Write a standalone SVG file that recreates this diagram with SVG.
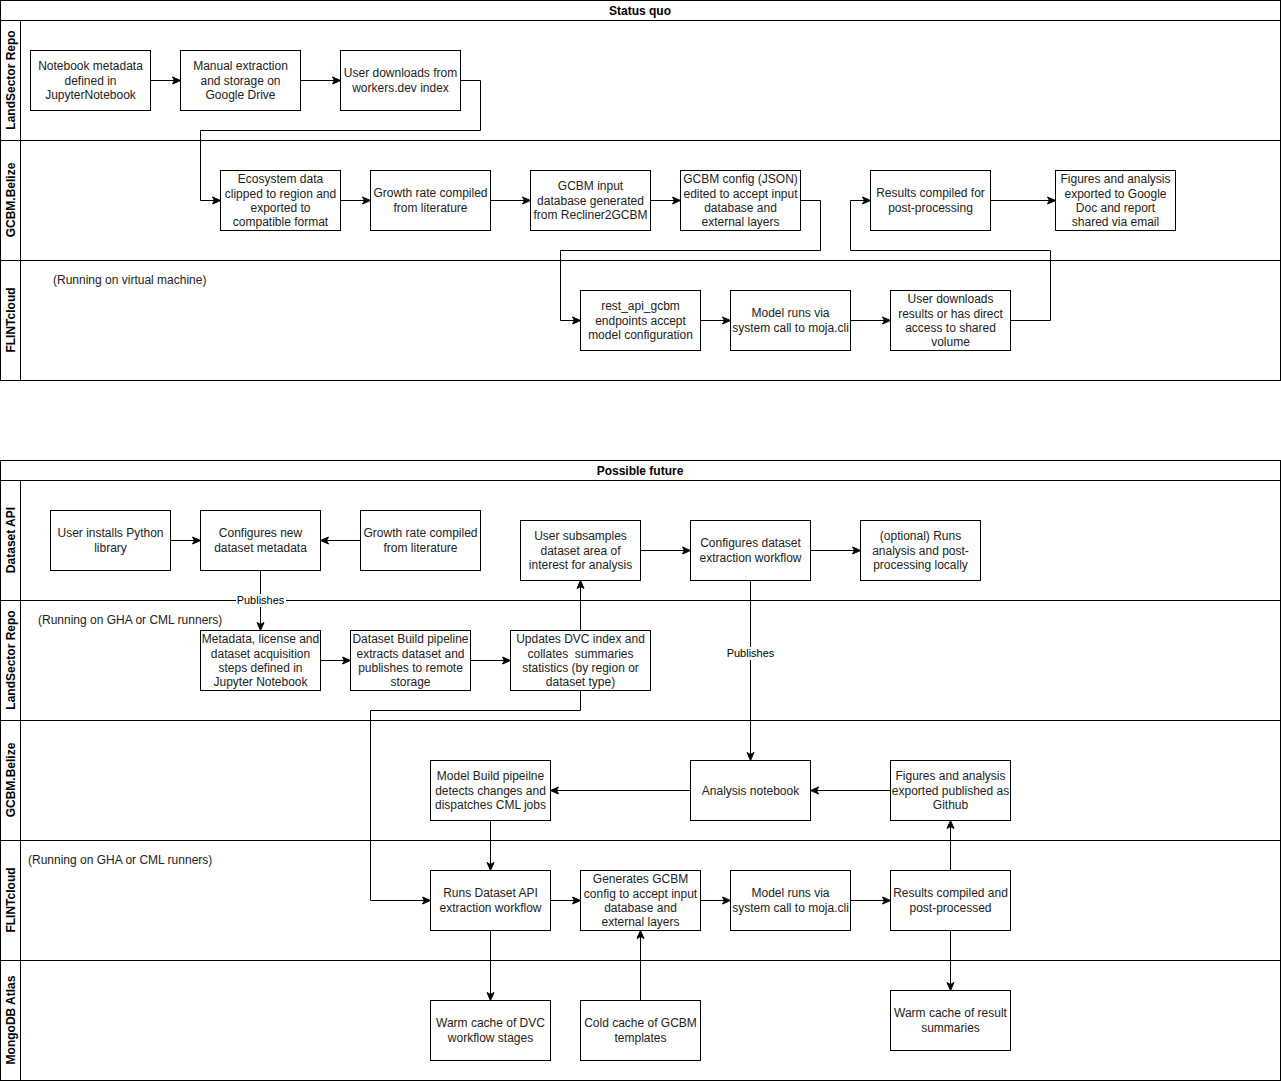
<svg xmlns="http://www.w3.org/2000/svg" width="1281" height="1081" viewBox="0 0 1281 1081">
<defs>
<style>
.pool{fill:#fff;stroke:#000;stroke-width:1}
.ln{fill:none;stroke:#000;stroke-width:1}
.box{fill:#fff;stroke:#000;stroke-width:1}
.t{font-family:"Liberation Sans",Arial,Helvetica,sans-serif;font-size:12px;fill:#222;text-anchor:middle}
.tl{font-family:"Liberation Sans",Arial,Helvetica,sans-serif;font-size:12px;fill:#222}
.h{font-family:"Liberation Sans",Arial,Helvetica,sans-serif;font-size:12px;font-weight:bold;fill:#000;text-anchor:middle}
.lbl{font-family:"Liberation Sans",Arial,Helvetica,sans-serif;font-size:11px;fill:#000;text-anchor:middle}
.e{fill:none;stroke:#000;stroke-width:1;marker-end:url(#arr)}
</style>
<marker id="arr" markerUnits="userSpaceOnUse" markerWidth="10" markerHeight="10" viewBox="0 0 10 10" refX="9" refY="5" orient="auto">
<path d="M1,1.5 L9,5 L1,8.5 L3,5 Z" fill="#000" stroke="#000" stroke-width="1"/>
</marker>
</defs>
<rect width="1281" height="1081" fill="#fff"/>

<g id="pool-status-quo">
<rect class="pool" x="0.5" y="0.5" width="1280" height="380"/>
<line class="ln" x1="0.5" y1="20.5" x2="1280.5" y2="20.5"/>
<line class="ln" x1="20.5" y1="20.5" x2="20.5" y2="380.5"/>
<line class="ln" x1="0.5" y1="140.5" x2="1280.5" y2="140.5"/>
<line class="ln" x1="0.5" y1="260.5" x2="1280.5" y2="260.5"/>
<text class="h" x="640" y="15">Status quo</text>
<text class="h" transform="translate(14.5,80) rotate(-90)">LandSector Repo</text>
<text class="h" transform="translate(14.5,200) rotate(-90)">GCBM.Belize</text>
<text class="h" transform="translate(14.5,320) rotate(-90)">FLINTcloud</text>
<text class="tl" x="53" y="284">(Running on virtual machine)</text>
</g>

<g id="pool-possible-future">
<rect class="pool" x="0.5" y="460.5" width="1280" height="620"/>
<line class="ln" x1="0.5" y1="480.5" x2="1280.5" y2="480.5"/>
<line class="ln" x1="20.5" y1="480.5" x2="20.5" y2="1080.5"/>
<line class="ln" x1="0.5" y1="600.5" x2="1280.5" y2="600.5"/>
<line class="ln" x1="0.5" y1="720.5" x2="1280.5" y2="720.5"/>
<line class="ln" x1="0.5" y1="840.5" x2="1280.5" y2="840.5"/>
<line class="ln" x1="0.5" y1="960.5" x2="1280.5" y2="960.5"/>
<text class="h" x="640" y="475">Possible future</text>
<text class="h" transform="translate(14.5,540) rotate(-90)">Dataset API</text>
<text class="h" transform="translate(14.5,660) rotate(-90)">LandSector Repo</text>
<text class="h" transform="translate(14.5,780) rotate(-90)">GCBM.Belize</text>
<text class="h" transform="translate(14.5,900) rotate(-90)">FLINTcloud</text>
<text class="h" transform="translate(14.5,1020) rotate(-90)">MongoDB Atlas</text>
<text class="tl" x="38" y="624">(Running on GHA or CML runners)</text>
<text class="tl" x="28" y="864">(Running on GHA or CML runners)</text>
</g>

<g id="connectors">
<path class="e" d="M150.5,80.5 H180.5"/>
<path class="e" d="M300.5,80.5 H340.5"/>
<path class="e" d="M460.5,80.5 H480.5 V130.5 H200.5 V200.5 H220.5"/>
<path class="e" d="M340.5,200.5 H370.5"/>
<path class="e" d="M490.5,200.5 H530.5"/>
<path class="e" d="M650.5,200.5 H680.5"/>
<path class="e" d="M800.5,200.5 H820.5 V250.5 H560.5 V320.5 H580.5"/>
<path class="e" d="M700.5,320.5 H730.5"/>
<path class="e" d="M850.5,320.5 H890.5"/>
<path class="e" d="M1010.5,320.5 H1050.5 V250.5 H850.5 V200.5 H870.5"/>
<path class="e" d="M990.5,200.5 H1055.5"/>

<path class="e" d="M170.5,540.5 H200.5"/>
<path class="e" d="M360.5,540.5 H320.5"/>
<path class="e" d="M260.5,570.5 V630.5"/>
<path class="e" d="M580.5,630.5 V580.5"/>
<path class="e" d="M640.5,550.5 H690.5"/>
<path class="e" d="M810.5,550.5 H860.5"/>
<path class="e" d="M750.5,580.5 V760.5"/>
<path class="e" d="M320.5,660.5 H350.5"/>
<path class="e" d="M470.5,660.5 H510.5"/>
<path class="e" d="M580.5,690.5 V710.5 H370.5 V900.5 H430.5"/>
<path class="e" d="M690.5,790.5 H550.5"/>
<path class="e" d="M890.5,790.5 H810.5"/>
<path class="e" d="M490.5,820.5 V870.5"/>
<path class="e" d="M550.5,900.5 H580.5"/>
<path class="e" d="M700.5,900.5 H730.5"/>
<path class="e" d="M850.5,900.5 H890.5"/>
<path class="e" d="M950.5,870.5 V820.5"/>
<path class="e" d="M950.5,930.5 V990.5"/>
<path class="e" d="M490.5,930.5 V1000.5"/>
<path class="e" d="M640.5,1000.5 V930.5"/>

<rect x="236" y="594" width="50" height="13" fill="#fff"/>
<text class="lbl" x="260.5" y="604">Publishes</text>
<rect x="724" y="647" width="53" height="13" fill="#fff"/>
<text class="lbl" x="750.5" y="657">Publishes</text>
</g>

<g id="n1"><rect class="box" x="30.5" y="50.5" width="120" height="60"/><text class="t" x="90.5" y="70">Notebook metadata</text><text class="t" x="90.5" y="84.5">defined in</text><text class="t" x="90.5" y="99">JupyterNotebook</text></g>
<g id="n2"><rect class="box" x="180.5" y="50.5" width="120" height="60"/><text class="t" x="240.5" y="70">Manual extraction</text><text class="t" x="240.5" y="84.5">and storage on</text><text class="t" x="240.5" y="99">Google Drive</text></g>
<g id="n3"><rect class="box" x="340.5" y="50.5" width="120" height="60"/><text class="t" x="400.5" y="77">User downloads from</text><text class="t" x="400.5" y="91.5">workers.dev index</text></g>
<g id="n4"><rect class="box" x="220.5" y="170.5" width="120" height="60"/><text class="t" x="280.5" y="183">Ecosystem data</text><text class="t" x="280.5" y="197.5">clipped to region and</text><text class="t" x="280.5" y="212">exported to</text><text class="t" x="280.5" y="226">compatible format</text></g>
<g id="n5"><rect class="box" x="370.5" y="170.5" width="120" height="60"/><text class="t" x="430.5" y="197">Growth rate compiled</text><text class="t" x="430.5" y="211.5">from literature</text></g>
<g id="n6"><rect class="box" x="530.5" y="170.5" width="120" height="60"/><text class="t" x="590.5" y="190">GCBM input</text><text class="t" x="590.5" y="204.5">database generated</text><text class="t" x="590.5" y="219">from Recliner2GCBM</text></g>
<g id="n7"><rect class="box" x="680.5" y="170.5" width="120" height="60"/><text class="t" x="740.5" y="183">GCBM config (JSON)</text><text class="t" x="740.5" y="197.5">edited to accept input</text><text class="t" x="740.5" y="212">database and</text><text class="t" x="740.5" y="226">external layers</text></g>
<g id="n8"><rect class="box" x="870.5" y="170.5" width="120" height="60"/><text class="t" x="930.5" y="197">Results compiled for</text><text class="t" x="930.5" y="211.5">post-processing</text></g>
<g id="n9"><rect class="box" x="1055.5" y="170.5" width="120" height="60"/><text class="t" x="1115.5" y="183">Figures and analysis</text><text class="t" x="1115.5" y="197.5">exported to Google</text><text class="t" x="1115.5" y="212">Doc and report</text><text class="t" x="1115.5" y="226">shared via email</text></g>
<g id="n10"><rect class="box" x="580.5" y="290.5" width="120" height="60"/><text class="t" x="640.5" y="310">rest_api_gcbm</text><text class="t" x="640.5" y="324.5">endpoints accept</text><text class="t" x="640.5" y="339">model configuration</text></g>
<g id="n11"><rect class="box" x="730.5" y="290.5" width="120" height="60"/><text class="t" x="790.5" y="317">Model runs via</text><text class="t" x="790.5" y="331.5">system call to moja.cli</text></g>
<g id="n12"><rect class="box" x="890.5" y="290.5" width="120" height="60"/><text class="t" x="950.5" y="303">User downloads</text><text class="t" x="950.5" y="317.5">results or has direct</text><text class="t" x="950.5" y="332">access to shared</text><text class="t" x="950.5" y="346">volume</text></g>

<g id="f1"><rect class="box" x="50.5" y="510.5" width="120" height="60"/><text class="t" x="110.5" y="537">User installs Python</text><text class="t" x="110.5" y="551.5">library</text></g>
<g id="f2"><rect class="box" x="200.5" y="510.5" width="120" height="60"/><text class="t" x="260.5" y="537">Configures new</text><text class="t" x="260.5" y="551.5">dataset metadata</text></g>
<g id="f3"><rect class="box" x="360.5" y="510.5" width="120" height="60"/><text class="t" x="420.5" y="537">Growth rate compiled</text><text class="t" x="420.5" y="551.5">from literature</text></g>
<g id="f4"><rect class="box" x="520.5" y="520.5" width="120" height="60"/><text class="t" x="580.5" y="540">User subsamples</text><text class="t" x="580.5" y="554.5">dataset area of</text><text class="t" x="580.5" y="569">interest for analysis</text></g>
<g id="f5"><rect class="box" x="690.5" y="520.5" width="120" height="60"/><text class="t" x="750.5" y="547">Configures dataset</text><text class="t" x="750.5" y="561.5">extraction workflow</text></g>
<g id="f6"><rect class="box" x="860.5" y="520.5" width="120" height="60"/><text class="t" x="920.5" y="540">(optional) Runs</text><text class="t" x="920.5" y="554.5">analysis and post-</text><text class="t" x="920.5" y="569">processing locally</text></g>
<g id="f7"><rect class="box" x="200.5" y="630.5" width="120" height="60"/><text class="t" x="260.5" y="643">Metadata, license and</text><text class="t" x="260.5" y="657.5">dataset acquisition</text><text class="t" x="260.5" y="672">steps defined in</text><text class="t" x="260.5" y="686">Jupyter Notebook</text></g>
<g id="f8"><rect class="box" x="350.5" y="630.5" width="120" height="60"/><text class="t" x="410.5" y="643">Dataset Build pipeline</text><text class="t" x="410.5" y="657.5">extracts dataset and</text><text class="t" x="410.5" y="672">publishes to remote</text><text class="t" x="410.5" y="686">storage</text></g>
<g id="f9"><rect class="box" x="510.5" y="630.5" width="140" height="60"/><text class="t" x="580.5" y="643">Updates DVC index and</text><text class="t" x="580.5" y="657.5" style="white-space:pre">collates  summaries</text><text class="t" x="580.5" y="672">statistics (by region or</text><text class="t" x="580.5" y="686">dataset type)</text></g>
<g id="f10"><rect class="box" x="430.5" y="760.5" width="120" height="60"/><text class="t" x="490.5" y="780">Model Build pipeilne</text><text class="t" x="490.5" y="794.5">detects changes and</text><text class="t" x="490.5" y="809">dispatches CML jobs</text></g>
<g id="f11"><rect class="box" x="690.5" y="760.5" width="120" height="60"/><text class="t" x="750.5" y="794.5">Analysis notebook</text></g>
<g id="f12"><rect class="box" x="890.5" y="760.5" width="120" height="60"/><text class="t" x="950.5" y="780">Figures and analysis</text><text class="t" x="950.5" y="794.5">exported published as</text><text class="t" x="950.5" y="809">Github</text></g>
<g id="f13"><rect class="box" x="430.5" y="870.5" width="120" height="60"/><text class="t" x="490.5" y="897">Runs Dataset API</text><text class="t" x="490.5" y="911.5">extraction workflow</text></g>
<g id="f14"><rect class="box" x="580.5" y="870.5" width="120" height="60"/><text class="t" x="640.5" y="883">Generates GCBM</text><text class="t" x="640.5" y="897.5">config to accept input</text><text class="t" x="640.5" y="912">database and</text><text class="t" x="640.5" y="926">external layers</text></g>
<g id="f15"><rect class="box" x="730.5" y="870.5" width="120" height="60"/><text class="t" x="790.5" y="897">Model runs via</text><text class="t" x="790.5" y="911.5">system call to moja.cli</text></g>
<g id="f16"><rect class="box" x="890.5" y="870.5" width="120" height="60"/><text class="t" x="950.5" y="897">Results compiled and</text><text class="t" x="950.5" y="911.5">post-processed</text></g>
<g id="f17"><rect class="box" x="430.5" y="1000.5" width="120" height="60"/><text class="t" x="490.5" y="1027">Warm cache of DVC</text><text class="t" x="490.5" y="1041.5">workflow stages</text></g>
<g id="f18"><rect class="box" x="580.5" y="1000.5" width="120" height="60"/><text class="t" x="640.5" y="1027">Cold cache of GCBM</text><text class="t" x="640.5" y="1041.5">templates</text></g>
<g id="f19"><rect class="box" x="890.5" y="990.5" width="120" height="60"/><text class="t" x="950.5" y="1017">Warm cache of result</text><text class="t" x="950.5" y="1031.5">summaries</text></g>
</svg>
